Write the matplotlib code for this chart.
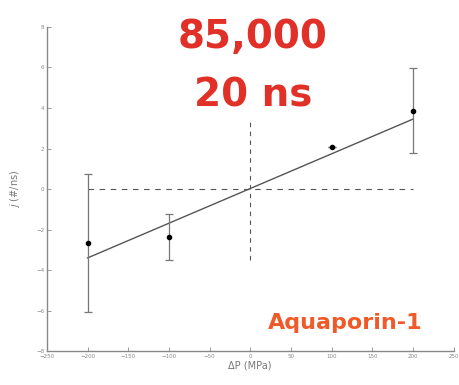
import matplotlib.pyplot as plt
import numpy as np

# pressure difference (MPa) and water flux (#/ns)
dp = [-200, -100, 100, 200]
flux = [-2.65, -2.35, 2.06, 3.87]
flux_err = [3.4, 1.13, 0.0, 2.1]

# fitted line end points
fit_x = [-200, 200]
fit_y = [-3.4, 3.45]

xticks = [-250, -200, -150, -100, -50, 0, 50, 100, 150, 200, 250]
yticks = [-8, -6, -4, -2, 0, 2, 4, 6, 8]

fig = plt.figure(figsize=(4.6, 3.85), dpi=100)
ax = fig.add_axes([0.102, 0.088, 0.884, 0.842])

ax.plot([-200, 200], [0, 0], color='#555555', lw=0.8, ls=(0, (5, 5)))
ax.plot([0, 0], [-3.5, 3.5], color='#555555', lw=0.8, ls=(0, (4, 4)))
ax.plot(fit_x, fit_y, color='#555555', lw=1.0)
ax.errorbar(dp, flux, yerr=flux_err, fmt='o', color='black', ms=3,
            ecolor='#777777', elinewidth=0.9, capsize=3, capthick=0.9)

ax.set_xlim(-250, 250)
ax.set_ylim(-8, 8)
ax.set_xticks(xticks)
ax.set_yticks(yticks)
ax.tick_params(direction='in', length=3, width=0.6, labelsize=4,
               labelcolor='#888888', color='#888888', pad=2)
for s in ['top', 'right']:
    ax.spines[s].set_visible(False)
for s in ['left', 'bottom']:
    ax.spines[s].set_color('#888888')
    ax.spines[s].set_linewidth(1.0)

ax.set_xlabel('ΔP (MPa)', fontsize=7, color='#777777', labelpad=1)
ax.set_ylabel('$j$ (#/ns)', fontsize=7, color='#777777', labelpad=10)

fig.text(0.55, 0.905, '85,000', ha='center', va='center', fontsize=28,
         fontweight='bold', color='#e03028')
fig.text(0.55, 0.753, '20 ns', ha='center', va='center', fontsize=28,
         fontweight='bold', color='#e03028')
fig.text(0.75, 0.16, 'Aquaporin-1', ha='center', va='center', fontsize=16,
         fontweight='bold', color='#f05a28')

fig.savefig('out.png', dpi=100)
